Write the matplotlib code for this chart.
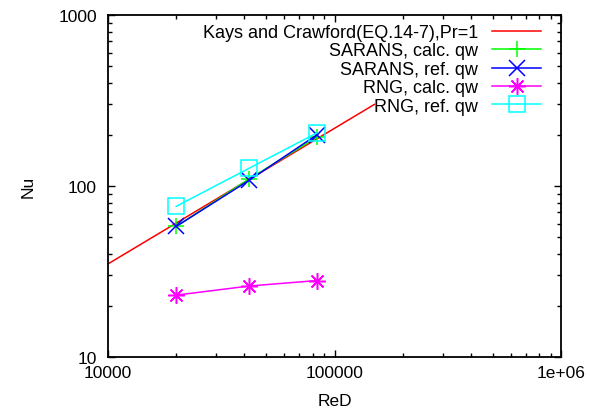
import matplotlib
matplotlib.use("Agg")
import matplotlib.pyplot as plt
from matplotlib.ticker import FixedLocator, LogLocator, NullFormatter

plt.rcParams['font.family'] = ['Liberation Sans', 'DejaVu Sans']

# Kays and Crawford correlation (straight line in log-log)
kc_re = [10000, 150000]
kc_nu = [35, 300]

re_pts = [20000, 42000, 84000]
sarans_calc = [58, 110, 194]
sarans_ref = [58, 108, 200]
rng_calc = [23, 26, 28]
rng_ref = [76, 127, 205]

fig = plt.figure(figsize=(5.9, 4.14), dpi=100)
ax = fig.add_axes([0.183, 0.1353, 0.768, 0.8261])

ax.plot(kc_re, kc_nu, color='#ff0000', lw=1.1, label='Kays and Crawford(EQ.14-7),Pr=1')
ax.plot(re_pts, sarans_calc, color='#00ff00', lw=1.1, marker='+', ms=12, mew=1.1,
        label='SARANS, calc. qw')
ax.plot(re_pts, sarans_ref, color='#0000ff', lw=1.1, marker='x', ms=11, mew=1.1,
        label='SARANS, ref. qw')
ax.plot(re_pts, rng_calc, color='#ff00ff', lw=1.1, marker=(8, 2, 0), ms=12, mew=1.1,
        label='RNG, calc. qw')
ax.plot(re_pts, rng_ref, color='#00ffff', lw=1.1, marker='s', ms=12, mew=1.1,
        mfc='none', label='RNG, ref. qw')

ax.set_xscale('log')
ax.set_yscale('log')
ax.set_xlim(10000, 1e6)
ax.set_ylim(10, 1000)

ax.xaxis.set_major_locator(FixedLocator([1e4, 1e5, 1e6]))
ax.set_xticklabels(['10000', '100000', '1e+06'])
ax.yaxis.set_major_locator(FixedLocator([10, 100, 1000]))
ax.set_yticklabels(['10', '100', '1000'])
ax.xaxis.set_minor_locator(LogLocator(base=10, subs=range(2, 10)))
ax.yaxis.set_minor_locator(LogLocator(base=10, subs=range(2, 10)))
ax.xaxis.set_minor_formatter(NullFormatter())
ax.yaxis.set_minor_formatter(NullFormatter())

ax.tick_params(which='both', direction='in', top=True, right=True, labelsize=12.5)
ax.tick_params(which='major', length=5, width=1)
ax.tick_params(which='minor', length=3, width=1)
ax.tick_params(axis='x', pad=6)
ax.tick_params(axis='y', pad=8)
for s in ax.spines.values():
    s.set_linewidth(1.3)

ax.set_xlabel('ReD', fontsize=12.5, labelpad=9)
ax.set_ylabel('Nu', fontsize=12.5, labelpad=16)

ax.legend(loc='upper right', bbox_to_anchor=(0.976, 1.0), frameon=False,
          markerfirst=False, fontsize=13, handlelength=2.7, labelspacing=0.08,
          borderaxespad=0.2, borderpad=0.3, handletextpad=0.8)

fig.savefig('out.png', dpi=100)
